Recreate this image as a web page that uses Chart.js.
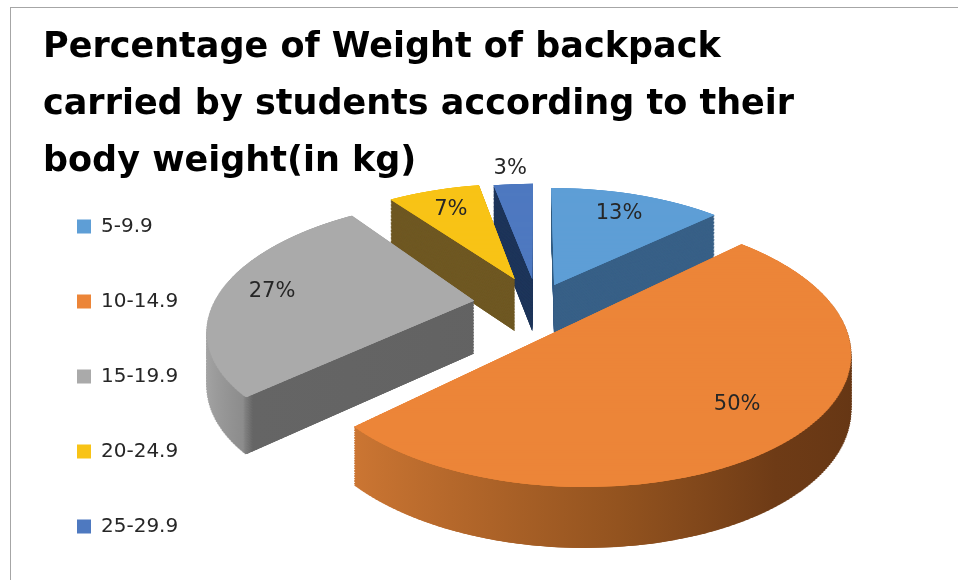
<!DOCTYPE html>
<html>
<head>
<meta charset="utf-8">
<script src="https://cdn.jsdelivr.net/npm/chart.js"></script>
<style>
  html, body { margin: 0; padding: 0; background: #ffffff; width: 958px; height: 580px; overflow: hidden; }
  #wrap { position: relative; width: 958px; height: 580px; overflow: hidden; }
  #frame { position: absolute; left: 10px; top: 7px; width: 950px; height: 600px;
           border-left: 1px solid #a6a6a6; border-top: 1px solid #a6a6a6; }
  #title { position: absolute; left: 43px; top: 17px; margin: 0;
           font-family: 'DejaVu Sans', sans-serif; font-weight: bold; font-size: 35px;
           line-height: 57px; color: #000000; white-space: nowrap; }
  #c { position: absolute; left: 0; top: 0; }
</style>
</head>
<body>
<div id="wrap">
  <div id="frame"></div>
  <canvas id="c" width="958" height="600"></canvas>
  <div id="title">Percentage of Weight of backpack<br>carried by students according to their<br>body weight(in kg)</div>
</div>
<script>
// ---- data ----
const CATEGORIES  = ['5-9.9', '10-14.9', '15-19.9', '20-24.9', '25-29.9'];
const PERCENTAGES = [13, 50, 27, 7, 3];

// ---- styles ----
const TOP_COLORS  = ['#5E9ED6', '#EC8538', '#AAAAAA', '#F8C316', '#4E79C0'];
const WALL_SHADES = [
  '#386087',
  [[0, '#d07a36'], [0.13, '#cc7633'], [0.55, '#93531f'], [0.8, '#6e3b16'], [1, '#653614']],
  [[0, '#a8a8a8'], [0.13, '#8c8c8c'], [0.145, '#656565'], [1, '#5f5f5f']],
  '#6f5823',
  '#1f365b'
];
const EXPLODE = [45, 55, 65, 60, 55];            // slice explosion distance (px, before tilt)
const LABEL_RADIUS = [0.76, 0.76, 0.8, 0.76, 1.2]; // label distance as a fraction of the radius
const VIEW = { sx: 0.98, sy: 0.4639, persp: 0.00075, lift: -73, depth: 53, band: 3, overlap: 3, layerStep: 1.5 };
const LABEL_FONT = '21px "DejaVu Sans"';

function wallFill(ctx, i, cx, R) {
  const spec = WALL_SHADES[i];
  if (typeof spec === 'string') return spec;
  const g = ctx.createLinearGradient(cx - R, 0, cx + R, 0);
  spec.forEach(([p, c]) => g.addColorStop(p, c));
  return g;
}

const pie3d = {
  id: 'pie3d',
  beforeDatasetsDraw(chart) {
    const ctx = chart.ctx;
    const arcs = chart.getDatasetMeta(0).data;
    if (!arcs.length) return;
    const cx = arcs[0].x, cy = arcs[0].y, R = arcs[0].outerRadius;
    const X0 = cx, Y0 = cy + VIEW.lift;
    const a = VIEW.persp, A = VIEW.sx, B = VIEW.sy;
    const project = (u, v) => { const s = 1 / (1 - a * v); return [X0 + A * u * s, Y0 + B * v * s]; };

    const info = arcs.map((arc, i) => {
      const mid = (arc.startAngle + arc.endAngle) / 2;
      const tx = Math.cos(mid) * EXPLODE[i], ty = Math.sin(mid) * EXPLODE[i];
      const Rp = R + 2;
      let lo = Math.min(0, Math.sin(arc.startAngle) * Rp, Math.sin(arc.endAngle) * Rp);
      let hi = Math.max(0, Math.sin(arc.startAngle) * Rp, Math.sin(arc.endAngle) * Rp);
      for (let k = -2; k <= 2; k++) {
        const down = Math.PI / 2 + 2 * Math.PI * k, up = -Math.PI / 2 + 2 * Math.PI * k;
        if (down > arc.startAngle && down < arc.endAngle) hi = Rp;
        if (up > arc.startAngle && up < arc.endAngle) lo = -Rp;
      }
      return { tx, ty, mid, lo: ty + lo - 4, hi: ty + hi + 4 };
    });

    const walls = arcs.map((arc, i) => {
      const p = Object.create(arc);
      const fill = wallFill(ctx, i, cx, R);
      p.options = { offset: 0, spacing: 0, circular: true, borderAlign: 'center',
                    borderRadius: 0, borderWidth: 0, backgroundColor: fill, borderColor: fill };
      return p;
    });

    const base = ctx.getTransform();
    const h = VIEW.band, ov = VIEW.overlap;
    const vMin = Math.min(...info.map(o => o.lo)), vMax = Math.max(...info.map(o => o.hi));
    const bands = [];
    for (let v = vMin; v < vMax; v += h) {
      const vb = v + h / 2;
      const s = 1 / (1 - a * vb);
      bands.push({ v0: v, v1: v + h, s, sx: A * s, sy: B * s * s,
                   e: X0 - A * s * cx, f: Y0 + B * vb * s - B * s * s * (cy + vb) });
    }
    const hit = (i, b) => !(info[i].hi < b.v0 - ov || info[i].lo > b.v1 + ov);
    const drawPass = (els, dz) => {
      for (const b of bands) {
        let any = false;
        for (let i = 0; i < els.length; i++) if (hit(i, b)) { any = true; break; }
        if (!any) continue;
        ctx.save();
        ctx.setTransform(base);
        ctx.transform(b.sx, 0, 0, b.sy, b.e, b.f + dz * (0.5 + 0.5 * b.s));
        ctx.beginPath();
        ctx.rect(cx - 2000, cy + b.v0 - ov, 4000, h + 2 * ov);
        ctx.clip();
        for (let i = 0; i < els.length; i++) {
          if (!hit(i, b)) continue;
          ctx.save();
          ctx.translate(info[i].tx, info[i].ty);
          els[i].draw(ctx);
          ctx.restore();
        }
        ctx.restore();
      }
    };

    for (let dz = VIEW.depth; dz > 0; dz -= VIEW.layerStep) drawPass(walls, dz);
    drawPass(arcs, 0);

    // data labels
    const values = chart.data.datasets[0].data;
    ctx.save();
    ctx.setTransform(base);
    ctx.font = LABEL_FONT;
    ctx.fillStyle = '#262626';
    ctx.textAlign = 'center';
    ctx.textBaseline = 'middle';
    arcs.forEach((arc, i) => {
      const r = LABEL_RADIUS[i] * R;
      const [px, py] = project(info[i].tx + Math.cos(info[i].mid) * r, info[i].ty + Math.sin(info[i].mid) * r);
      ctx.fillText(values[i] + '%', px, py);
    });
    ctx.restore();
    return false;
  }
};

new Chart(document.getElementById('c'), {
  type: 'pie',
  data: {
    labels: CATEGORIES,
    datasets: [{
      data: PERCENTAGES,
      backgroundColor: TOP_COLORS,
      borderWidth: 0,
      radius: 265
    }]
  },
  options: {
    responsive: false,
    animation: false,
    events: [],
    layout: { padding: { left: 22, right: 72, top: 156.5, bottom: 3.5 } },
    plugins: {
      legend: {
        position: 'left',
        align: 'center',
        labels: { boxWidth: 14, boxHeight: 14, padding: 55, color: '#262626',
                  font: { family: 'DejaVu Sans', size: 20 } }
      },
      tooltip: { enabled: false },
      title: { display: false }
    }
  },
  plugins: [pie3d]
});
</script>
</body>
</html>
